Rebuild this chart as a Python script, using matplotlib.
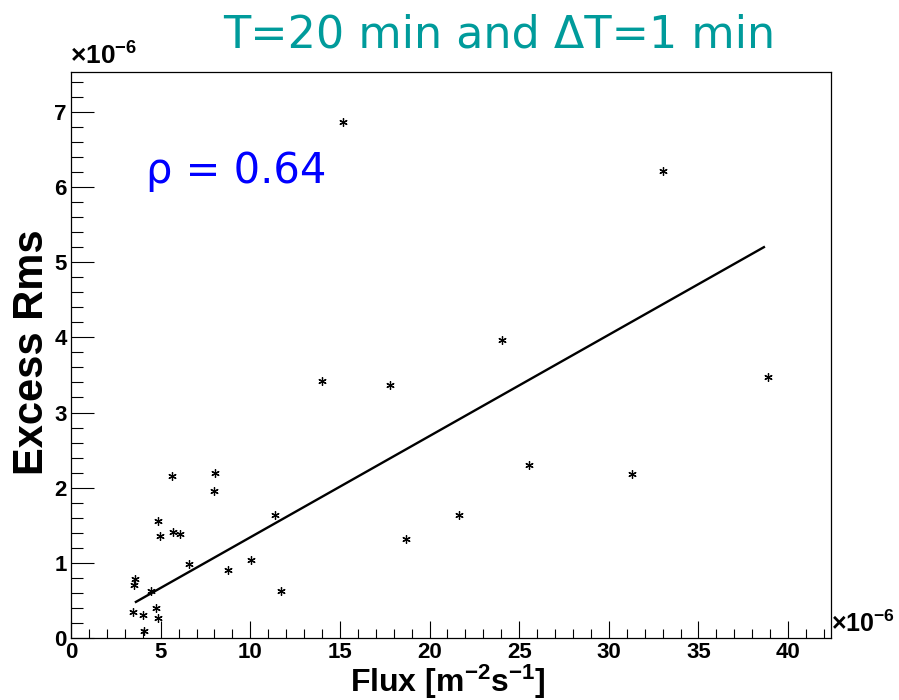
import matplotlib as mpl
mpl.use('Agg')
import matplotlib.pyplot as plt
from matplotlib.ticker import MultipleLocator

plt.rcParams['mathtext.fontset'] = 'custom'
plt.rcParams['mathtext.rm'] = 'Liberation Sans:bold'
plt.rcParams['mathtext.bf'] = 'Liberation Sans:bold'
plt.rcParams['mathtext.it'] = 'Liberation Sans:bold'
plt.rcParams['mathtext.default'] = 'bf'

# values in units of 1e-6
flux = [15.15, 33.02, 13.98, 17.79, 24.05, 25.54, 21.66, 18.67, 38.86, 31.29,
        5.62, 8.03, 7.99, 4.84, 4.96, 5.67, 6.10, 6.58, 8.77, 10.02,
        11.36, 11.71, 3.57, 3.53, 4.45, 3.44, 4.02, 4.76, 4.87, 4.07]
excess_rms = [6.87, 6.21, 3.42, 3.37, 3.97, 2.30, 1.64, 1.32, 3.47, 2.18,
              2.16, 2.20, 1.95, 1.55, 1.36, 1.41, 1.38, 0.99, 0.90, 1.04,
              1.64, 0.62, 0.78, 0.70, 0.62, 0.34, 0.30, 0.40, 0.27, 0.09]
fit_x = [3.62, 38.65]
fit_y = [0.48, 5.20]

fig = plt.figure(figsize=(8.99, 7.0), dpi=100)
ax = fig.add_axes([0.079, 0.0886, 0.8455, 0.8085])

ax.plot(flux, excess_rms, linestyle='none', marker=(6, 2, 0), markersize=6,
        markeredgewidth=0.9, color='black')
ax.plot(fit_x, fit_y, color='black', linewidth=1.7)

ax.set_xlim(0, 42.4)
ax.set_ylim(0, 7.53)
ax.xaxis.set_major_locator(MultipleLocator(5))
ax.xaxis.set_minor_locator(MultipleLocator(1))
ax.yaxis.set_major_locator(MultipleLocator(1))
ax.yaxis.set_minor_locator(MultipleLocator(0.2))
ax.tick_params(which='both', direction='in', top=False, right=False)
ax.tick_params(axis='x', which='major', length=12, width=0.8, pad=3)
ax.tick_params(axis='x', which='minor', length=6.5, width=0.8)
ax.tick_params(axis='y', which='major', length=16.5, width=0.8, pad=3)
ax.tick_params(axis='y', which='minor', length=8.5, width=0.8)
for lab in ax.get_xticklabels() + ax.get_yticklabels():
    lab.set_fontfamily('Liberation Sans')
    lab.set_fontweight('bold')
    lab.set_fontsize(16)
for s in ax.spines.values():
    s.set_linewidth(0.9)

# exponent labels, ROOT style
exp_label = '\u00d710$^{-6}$'
fig.text(0.078, 0.9, exp_label, fontsize=19, fontweight='bold',
         family='Liberation Sans', ha='left', va='bottom')
fig.text(0.924, 0.09, exp_label, fontsize=18, fontweight='bold',
         family='Liberation Sans', ha='left', va='bottom')

fig.text(0.607, 0.011, r'Flux [m$^{-2}$s$^{-1}$]', fontsize=23,
         fontweight='bold', family='Liberation Sans', ha='right', va='baseline')
fig.text(0.036, 0.497, 'Excess Rms', fontsize=30, fontweight='bold',
         family='Liberation Sans', rotation=90, ha='center', va='center')

fig.text(0.555, 0.95, 'T=20 min and \u0394T=1 min', fontsize=32, color='#009b9b',
         family='DejaVu Sans', ha='center', va='center')
ax.text(0.098, 0.825, '\u03c1 = 0.64', transform=ax.transAxes, fontsize=30,
        color='#0000ff', family='DejaVu Sans', ha='left', va='center')

fig.savefig('out.png', dpi=100)
